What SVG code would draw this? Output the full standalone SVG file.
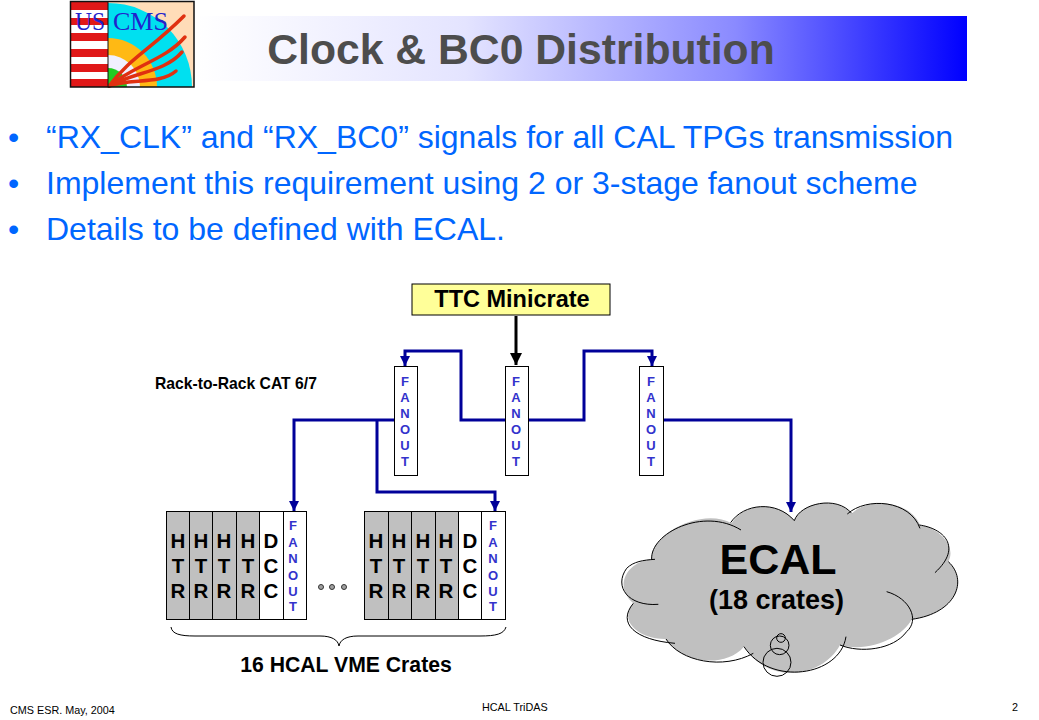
<svg xmlns="http://www.w3.org/2000/svg" width="1039" height="720" viewBox="0 0 1039 720">
<defs>
<linearGradient id="tg" x1="0" x2="1" y1="0" y2="0"><stop offset="0" stop-color="#ffffff"/><stop offset="0.35" stop-color="#e4e4ff"/><stop offset="0.7" stop-color="#8a8aff"/><stop offset="1" stop-color="#0000ff"/></linearGradient>
<marker id="ab" markerUnits="userSpaceOnUse" markerWidth="12" markerHeight="12" refX="10" refY="6" orient="auto"><path d="M0,1 L10,6 L0,11 Z" fill="#000099"/></marker>
<marker id="ak" markerUnits="userSpaceOnUse" markerWidth="14" markerHeight="14" refX="12" refY="6" orient="auto"><path d="M0,0 L12,6 L0,12 Z" fill="#000"/></marker>
</defs>
<style>
text{font-family:"Liberation Sans",Arial,sans-serif}
.b{fill:#0066ff;font-size:32px}
.box{fill:#fff;stroke:#000;stroke-width:1}
.g{fill:#c0c0c0;stroke:#000;stroke-width:1}
.w{fill:#fff;stroke:#000;stroke-width:1}
.f{fill:#3333cc;font-size:13px;font-weight:bold;text-anchor:middle}
.l{fill:#000;font-size:20.500px;font-weight:bold;text-anchor:middle}
.c{fill:none;stroke:#000099;stroke-width:3}
.s{font-size:10.800px;fill:#000}
</style>
<rect width="1039" height="720" fill="#fff"/>
<rect x="195" y="16" width="772" height="65" fill="url(#tg)"/>
<g id="logo">
<rect x="108" y="2" width="86" height="85" fill="#ffdcb8"/>
<path d="M108,3 A84,84 0 0 1 192,87 H108 Z" fill="#00e0f0"/>
<path d="M108,38 A49,49 0 0 1 157,87 H108 Z" fill="#ffb914"/>
<path d="M108,55 A32,32 0 0 1 140,87 H108 Z" fill="#f0f0ff"/>
<path d="M108,68 A19,19 0 0 1 127,87 H108 Z" fill="#22cc22"/>
<rect x="70" y="2" width="38" height="85" fill="#fff"/>
<g fill="#e01818"><rect x="70" y="2" width="38" height="8"/><rect x="70" y="18" width="38" height="7"/><rect x="70" y="33" width="38" height="8"/><rect x="70" y="49" width="38" height="8"/><rect x="70" y="64" width="38" height="8"/><rect x="70" y="79" width="38" height="8"/></g>
<g fill="none" stroke="#e03010" stroke-width="3.500" stroke-linecap="round"><path d="M109,86 C130,58 150,50 184,16"/><path d="M109,86 C135,65 165,60 185,37"/><path d="M109,86 C135,72 165,72 182,52"/><path d="M109,86 C130,78 160,85 176,71"/></g>
<text x="75" y="30" font-size="26" textLength="30" lengthAdjust="spacingAndGlyphs" style="font-family:'Liberation Serif',serif" fill="#2222cc">US</text>
<text x="113" y="30" font-size="26" textLength="55" lengthAdjust="spacingAndGlyphs" style="font-family:'Liberation Serif',serif" fill="#2222cc">CMS</text>
<rect x="70.500" y="1.500" width="123.500" height="85.500" fill="none" stroke="#111" stroke-width="1.500"/>
<line x1="108" y1="2" x2="108" y2="87" stroke="#111"/>
</g>
<text x="521" y="64" text-anchor="middle" font-size="42.700" font-weight="bold" fill="#4d4d4d">Clock &amp; BC0 Distribution</text>
<g id="bullets">
<text x="8" y="148" class="b">•</text><text x="46" y="148" class="b">“RX_CLK” and “RX_BC0” signals for all CAL TPGs transmission</text>
<text x="8" y="194" class="b">•</text><text x="46" y="194" class="b">Implement this requirement using 2 or 3-stage fanout scheme</text>
<text x="8" y="240" class="b">•</text><text x="46" y="240" class="b">Details to be defined with ECAL.</text>
</g>
<g id="connectors">
<path d="M516,316 V365" fill="none" stroke="#000" stroke-width="3" marker-end="url(#ak)"/>
<path class="c" d="M506,420 H461 V351 H405 V366" marker-end="url(#ab)"/>
<path class="c" d="M528,420 H584 V351 H652 V366" marker-end="url(#ab)"/>
<path class="c" d="M394,420 H294 V511" marker-end="url(#ab)"/>
<path class="c" d="M664,420 H791 V512" marker-end="url(#ab)"/>
<path class="c" d="M377,420 V492 H495 V511" marker-end="url(#ab)"/>
</g>
<g id="ttc"><rect x="412" y="284" width="198" height="31" fill="#ffff99" stroke="#000"/><text x="512" y="307" font-size="23.500" font-weight="bold" text-anchor="middle">TTC Minicrate</text></g>
<text x="155" y="389" font-size="15.700" font-weight="bold">Rack-to-Rack CAT 6/7</text>
<g id="fan1"><rect class="box" x="394.500" y="366.500" width="23" height="109"/><text class="f"><tspan x="405" y="386">F</tspan><tspan x="405" y="402">A</tspan><tspan x="405" y="418">N</tspan><tspan x="405" y="434">O</tspan><tspan x="405" y="450">U</tspan><tspan x="405" y="466">T</tspan></text></g>
<g id="fan2"><rect class="box" x="505.500" y="366.500" width="23" height="109"/><text class="f"><tspan x="516" y="386">F</tspan><tspan x="516" y="402">A</tspan><tspan x="516" y="418">N</tspan><tspan x="516" y="434">O</tspan><tspan x="516" y="450">U</tspan><tspan x="516" y="466">T</tspan></text></g>
<g id="fan3"><rect class="box" x="639.500" y="366.500" width="24" height="109"/><text class="f"><tspan x="651" y="386">F</tspan><tspan x="651" y="402">A</tspan><tspan x="651" y="418">N</tspan><tspan x="651" y="434">O</tspan><tspan x="651" y="450">U</tspan><tspan x="651" y="466">T</tspan></text></g>
<g id="crate1">
<rect class="g" x="166.500" y="511.500" width="23" height="108"/><rect class="g" x="189.500" y="511.500" width="23" height="108"/><rect class="g" x="212.500" y="511.500" width="24" height="108"/><rect class="g" x="236.500" y="511.500" width="23" height="108"/><rect class="w" x="259.500" y="511.500" width="24" height="108"/><rect class="w" x="283.500" y="511.500" width="23" height="108"/>
<text class="l"><tspan x="178" y="548">H</tspan><tspan x="178" y="573">T</tspan><tspan x="178" y="598">R</tspan></text>
<text class="l"><tspan x="201" y="548">H</tspan><tspan x="201" y="573">T</tspan><tspan x="201" y="598">R</tspan></text>
<text class="l"><tspan x="224" y="548">H</tspan><tspan x="224" y="573">T</tspan><tspan x="224" y="598">R</tspan></text>
<text class="l"><tspan x="248" y="548">H</tspan><tspan x="248" y="573">T</tspan><tspan x="248" y="598">R</tspan></text>
<text class="l"><tspan x="271" y="548">D</tspan><tspan x="271" y="573">C</tspan><tspan x="271" y="598">C</tspan></text>
<text class="f"><tspan x="293" y="530">F</tspan><tspan x="293" y="547">A</tspan><tspan x="293" y="563">N</tspan><tspan x="293" y="580">O</tspan><tspan x="293" y="596">U</tspan><tspan x="293" y="611">T</tspan></text>
</g>
<g id="dots" fill="#a0a0a0" stroke="#333" stroke-width="1"><circle cx="321" cy="587" r="2.500"/><circle cx="332" cy="587" r="2.500"/><circle cx="344" cy="587" r="2.500"/></g>
<g id="crate2">
<rect class="g" x="364.500" y="511.500" width="24" height="108"/><rect class="g" x="388.500" y="511.500" width="23" height="108"/><rect class="g" x="411.500" y="511.500" width="24" height="108"/><rect class="g" x="435.500" y="511.500" width="23" height="108"/><rect class="w" x="458.500" y="511.500" width="23" height="108"/><rect class="w" x="481.500" y="511.500" width="24" height="108"/>
<text class="l"><tspan x="376" y="548">H</tspan><tspan x="376" y="573">T</tspan><tspan x="376" y="598">R</tspan></text>
<text class="l"><tspan x="399" y="548">H</tspan><tspan x="399" y="573">T</tspan><tspan x="399" y="598">R</tspan></text>
<text class="l"><tspan x="423" y="548">H</tspan><tspan x="423" y="573">T</tspan><tspan x="423" y="598">R</tspan></text>
<text class="l"><tspan x="446" y="548">H</tspan><tspan x="446" y="573">T</tspan><tspan x="446" y="598">R</tspan></text>
<text class="l"><tspan x="470" y="548">D</tspan><tspan x="470" y="573">C</tspan><tspan x="470" y="598">C</tspan></text>
<text class="f"><tspan x="493" y="530">F</tspan><tspan x="493" y="547">A</tspan><tspan x="493" y="563">N</tspan><tspan x="493" y="580">O</tspan><tspan x="493" y="596">U</tspan><tspan x="493" y="611">T</tspan></text>
</g>
<path id="brace" d="M171,627 C172,634 180,636 195,636 H320 C332,636 338,640 339,646 C340,640 346,636 358,636 H480 C496,636 504,634 506,627" fill="none" stroke="#000" stroke-width="1"/>
<text x="346" y="672" font-size="21.200" font-weight="bold" text-anchor="middle">16 HCAL VME Crates</text>
<g id="ecal">
<g transform="translate(610 490) scale(.3333)" stroke-width="3">
<path fill="#c0c0c0" d="M125,208 C120,130 280,50 365,100 C400,40 500,30 553,92 C570,40 680,15 725,72 C770,20 900,30 930,105 C990,115 1040,170 1015,215 C1075,270 1040,370 905,388 C880,440 780,490 690,465 C640,560 480,590 402,470 C340,540 210,515 168,447 C100,450 20,400 70,340 C10,290 50,215 125,208 Z"/>
<path fill="none" stroke="#000" d="M125,208 C120,130 280,50 393,120 M362,98 C400,40 500,30 553,92 M553,92 C570,40 680,15 725,70 M712,72 C770,20 900,30 930,115 M928,105 C1000,115 1060,170 975,248 M1015,215 C1075,270 1040,370 905,388 M830,305 C900,325 930,390 890,425 C850,480 750,490 690,465 M708,440 C690,560 480,590 402,470 M430,490 C340,540 210,515 168,447 M195,460 C75,450 20,400 70,340 M145,343 C55,350 10,290 50,235 C70,215 100,210 135,208"/>
<circle cx="513" cy="444" r="13" fill="none" stroke="#000"/><circle cx="509" cy="466" r="28" fill="none" stroke="#000"/><circle cx="501" cy="517" r="42" fill="none" stroke="#000"/>
</g>
<text x="778" y="574" font-size="43" font-weight="bold" text-anchor="middle">ECAL</text>
<text x="776.500" y="609" font-size="27" font-weight="bold" text-anchor="middle">(18 crates)</text>
</g>
<text x="10" y="714" class="s">CMS ESR. May, 2004</text>
<text x="482" y="711" class="s">HCAL TriDAS</text>
<text x="1012" y="711" class="s">2</text>
</svg>
